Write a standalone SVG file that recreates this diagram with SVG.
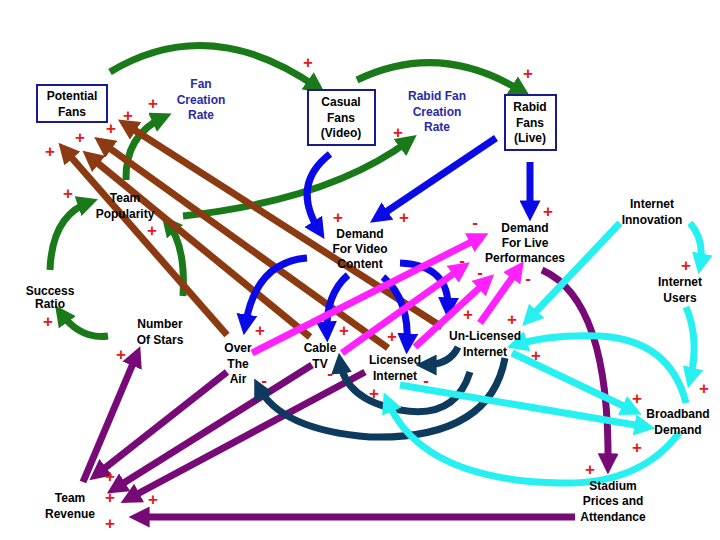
<svg xmlns="http://www.w3.org/2000/svg" width="720" height="540" viewBox="0 0 720 540">
<style>
text{font-family:"Liberation Sans",Arial,sans-serif;font-size:12px;font-weight:bold;text-anchor:middle;fill:#000}
.rate{fill:#2a2aa8}
.box{fill:#fff;stroke:#1a1a8c;stroke-width:2}
.s{fill:#e81818;font-weight:bold;font-size:17px}
path{fill:none;stroke-width:7}
.g{stroke:#1a7a1a;marker-end:url(#mg)}
.br{stroke:#8b3a12;marker-end:url(#mbr)}
.b{stroke:#0a0ae6;marker-end:url(#mb)}
.m{stroke:#ff22ff;marker-end:url(#mm)}
.p{stroke:#770a77;marker-end:url(#mp)}
.n{stroke:#0e3a5e;marker-end:url(#mn)}
.c{stroke:#26f0f0;marker-end:url(#mc)}
</style>
<defs>
<marker id="mg" viewBox="0 0 10 10" refX="6" refY="5" markerWidth="3" markerHeight="3" orient="auto"><path d="M0,0L10,5L0,10Z" style="fill:#1a7a1a;stroke:none"/></marker>
<marker id="mbr" viewBox="0 0 10 10" refX="6" refY="5" markerWidth="3" markerHeight="3" orient="auto"><path d="M0,0L10,5L0,10Z" style="fill:#8b3a12;stroke:none"/></marker>
<marker id="mb" viewBox="0 0 10 10" refX="6" refY="5" markerWidth="3" markerHeight="3" orient="auto"><path d="M0,0L10,5L0,10Z" style="fill:#0a0ae6;stroke:none"/></marker>
<marker id="mm" viewBox="0 0 10 10" refX="6" refY="5" markerWidth="3" markerHeight="3" orient="auto"><path d="M0,0L10,5L0,10Z" style="fill:#ff22ff;stroke:none"/></marker>
<marker id="mp" viewBox="0 0 10 10" refX="6" refY="5" markerWidth="3" markerHeight="3" orient="auto"><path d="M0,0L10,5L0,10Z" style="fill:#770a77;stroke:none"/></marker>
<marker id="mn" viewBox="0 0 10 10" refX="6" refY="5" markerWidth="3" markerHeight="3" orient="auto"><path d="M0,0L10,5L0,10Z" style="fill:#0e3a5e;stroke:none"/></marker>
<marker id="mc" viewBox="0 0 10 10" refX="6" refY="5" markerWidth="3" markerHeight="3" orient="auto"><path d="M0,0L10,5L0,10Z" style="fill:#26f0f0;stroke:none"/></marker>
</defs>
<rect width="720" height="540" fill="#fff"/>
<g id="connectors">
<path class="g" d="M110,72 Q210,12 318,88"/>
<path class="g" d="M357,80 Q440,40 523,92"/>
<path class="g" d="M126,180 Q125,135 164,117"/>
<path class="g" d="M50,270 Q52,215 90,202"/>
<path class="g" d="M183,296 Q186,245 167,222"/>
<path class="g" d="M183,216 Q330,200 410,140"/>
<path class="g" d="M108,336 Q80,340 60,312"/>
<path class="br" d="M227,335 L64,149"/>
<path class="br" d="M310,337 L89,156"/>
<path class="br" d="M388,348 L101,142"/>
<path class="br" d="M442,327 L125,124"/>
<path class="b" d="M330,154 Q290,185 320,232"/>
<path class="b" d="M496,138 L377,218"/>
<path class="b" d="M530,162 L530,213"/>
<path class="b" d="M307,258 Q255,262 245,327"/>
<path class="b" d="M348,275 Q325,295 327,334"/>
<path class="b" d="M383,277 Q410,300 407,346"/>
<path class="b" d="M400,263 Q450,265 448,310"/>
<path class="m" d="M252,353 L481,237"/>
<path class="m" d="M342,353 L463,267"/>
<path class="m" d="M415,347 L488,280"/>
<path class="m" d="M480,323 L519,268"/>
<path class="p" d="M542,270 Q610,300 608,466"/>
<path class="p" d="M575,517 L137,517"/>
<path class="p" d="M227,372 L96,475"/>
<path class="p" d="M312,365 L114,489"/>
<path class="p" d="M365,372 L128,499"/>
<path class="p" d="M83,482 L137,354"/>
<path class="n" d="M458,347 Q450,365 424,365"/>
<path class="n" d="M470,372 Q455,420 400,410 Q345,400 340,361"/>
<path class="n" d="M505,358 Q490,440 370,437 Q280,430 258,386"/>
<path class="c" d="M690,223 Q705,240 700,266"/>
<path class="c" d="M620,223 L528,320"/>
<path class="c" d="M686,307 Q700,340 690,380"/>
<path class="c" d="M686,403 Q670,340 600,336 Q550,334 515,345"/>
<path class="c" d="M512,353 L634,411"/>
<path class="c" d="M400,385 L647,427"/>
<path class="c" d="M679,433 Q640,485 560,483 Q420,480 387,400"/>
</g>
<g id="potential-fans"><rect class="box" x="37" y="85" width="70" height="37"/><text x="72" y="100">Potential</text><text x="72" y="116">Fans</text></g>
<g id="fan-creation-rate"><text class="rate" x="201" y="88">Fan</text><text class="rate" x="201" y="104">Creation</text><text class="rate" x="201" y="119">Rate</text></g>
<g id="casual-fans"><rect class="box" x="308" y="90" width="67" height="55"/><text x="341" y="106">Casual</text><text x="341" y="122">Fans</text><text x="341" y="137">(Video)</text></g>
<g id="rabid-fan-creation-rate"><text class="rate" x="437" y="100">Rabid Fan</text><text class="rate" x="437" y="116">Creation</text><text class="rate" x="437" y="131">Rate</text></g>
<g id="rabid-fans"><rect class="box" x="505" y="95" width="51" height="55"/><text x="530" y="111">Rabid</text><text x="530" y="127">Fans</text><text x="530" y="142">(Live)</text></g>
<g id="team-popularity"><text x="125" y="202">Team</text><text x="125" y="218">Popularity</text></g>
<g id="demand-video"><text x="360" y="238">Demand</text><text x="360" y="253">For Video</text><text x="360" y="268">Content</text></g>
<g id="demand-live"><text x="525" y="232">Demand</text><text x="525" y="247">For Live</text><text x="525" y="262">Performances</text></g>
<g id="internet-innovation"><text x="652" y="208">Internet</text><text x="652" y="224">Innovation</text></g>
<g id="internet-users"><text x="680" y="286">Internet</text><text x="680" y="302">Users</text></g>
<g id="success-ratio"><text x="50" y="295">Success</text><text x="50" y="308">Ratio</text></g>
<g id="number-of-stars"><text x="160" y="328">Number</text><text x="160" y="344">Of Stars</text></g>
<g id="over-the-air"><text x="238" y="352">Over</text><text x="238" y="368">The</text><text x="238" y="383">Air</text></g>
<g id="cable-tv"><text x="320" y="352">Cable</text><text x="320" y="368">TV</text></g>
<g id="licensed-internet"><text x="395" y="364">Licensed</text><text x="395" y="380">Internet</text></g>
<g id="unlicensed-internet"><text x="485" y="340">Un-Licensed</text><text x="485" y="356">Internet</text></g>
<g id="broadband-demand"><text x="678" y="418">Broadband</text><text x="678" y="434">Demand</text></g>
<g id="stadium"><text x="613" y="490">Stadium</text><text x="613" y="505">Prices and</text><text x="613" y="521">Attendance</text></g>
<g id="team-revenue"><text x="70" y="502">Team</text><text x="70" y="518">Revenue</text></g>
<g id="signs">
<text class="s" x="308" y="68">+</text><text class="s" x="528" y="79">+</text><text class="s" x="153" y="109">+</text><text class="s" x="128" y="121">+</text><text class="s" x="111" y="134">+</text><text class="s" x="80" y="143">+</text><text class="s" x="50" y="157">+</text><text class="s" x="68" y="199">+</text><text class="s" x="152" y="236">+</text><text class="s" x="48" y="327">+</text><text class="s" x="121" y="360">+</text><text class="s" x="398" y="138">+</text><text class="s" x="338" y="223">+</text><text class="s" x="404" y="223">+</text><text class="s" x="548" y="217">+</text><text class="s" x="686" y="271">+</text><text class="s" x="260" y="336">+</text><text class="s" x="344" y="336">+</text><text class="s" x="392" y="342">+</text><text class="s" x="468" y="320">+</text><text class="s" x="512" y="325">+</text><text class="s" x="536" y="361">+</text><text class="s" x="704" y="394">+</text><text class="s" x="637" y="404">+</text><text class="s" x="637" y="453">+</text><text class="s" x="590" y="475">+</text><text class="s" x="374" y="399">+</text><text class="s" x="110" y="482">+</text><text class="s" x="110" y="503">+</text><text class="s" x="153" y="505">+</text><text class="s" x="110" y="529">+</text>
<text class="s" x="475" y="228">-</text><text class="s" x="462" y="266">-</text><text class="s" x="480" y="278">-</text><text class="s" x="528" y="284">-</text><text class="s" x="264" y="386">-</text><text class="s" x="330" y="379">-</text><text class="s" x="426" y="386">-</text>
</g>
</svg>
